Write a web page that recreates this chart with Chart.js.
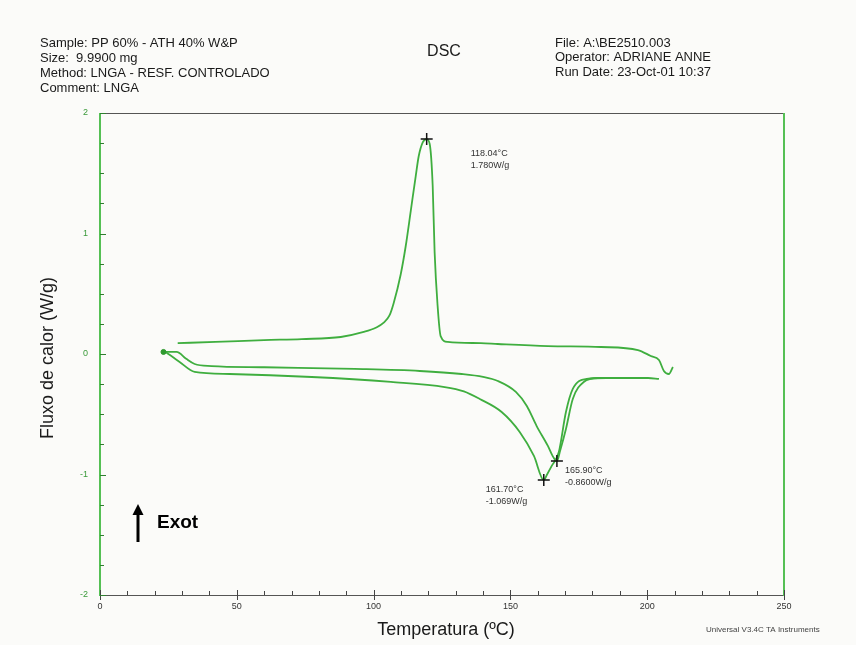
<!DOCTYPE html>
<html>
<head>
<meta charset="utf-8">
<title>DSC</title>
<script src="https://cdn.jsdelivr.net/npm/chart.js@4.4.0/dist/chart.umd.min.js"></script>
<style>
  html, body { margin: 0; padding: 0; background: #fbfbf9; }
  canvas { display: block; }
</style>
</head>
<body>
<canvas id="dscChart" width="856" height="645"></canvas>
<script>
// cooling run (exotherm up)
var coolTemp = [28.4, 42.2, 60, 73.7, 88.0, 96.4, 101, 103.7, 105.8, 107.3, 109.9, 111.7, 113.6, 115.4, 116.5, 118.0, 119.4, 120.5, 121.6, 122.3, 123.4, 124.5, 127.1, 139.2, 145.4, 163.7, 183.1, 196.6, 201.3, 204.3, 206.1, 207.9, 209.4];
var coolFlow = [0.09, 0.10, 0.115, 0.124, 0.141, 0.183, 0.22, 0.26, 0.32, 0.42, 0.66, 0.89, 1.19, 1.477, 1.643, 1.759, 1.784, 1.743, 1.394, 0.846, 0.398, 0.149, 0.10, 0.09, 0.083, 0.066, 0.058, 0.033, -0.017, -0.05, -0.141, -0.166, -0.108];

// first heating run
var heat1Temp = [23.2, 28.0, 31.5, 34.6, 40.8, 60, 93.1, 116.9, 132.2, 140, 145.4, 152.0, 156.0, 159.6, 163.7, 165.8, 167.0, 168.2, 170.3, 172.8, 176.8, 182.0, 200.3, 204.3];
var heat1Flow = [0.017, 0.017, -0.04, -0.083, -0.10, -0.11, -0.124, -0.141, -0.166, -0.19, -0.224, -0.315, -0.432, -0.598, -0.763, -0.86, -0.888, -0.80, -0.622, -0.373, -0.232, -0.199, -0.199, -0.207];

// second heating run
var heat2Temp = [24.0, 29.1, 34.6, 47.4, 77.4, 106.3, 126.0, 133, 138.8, 146.8, 153.4, 158.6, 162.2, 163.4, 165.1, 167.7, 170.3, 172.8, 177.9, 185, 197.7];
var heat2Flow = [0.017, -0.066, -0.149, -0.166, -0.191, -0.232, -0.274, -0.31, -0.373, -0.481, -0.647, -0.846, -1.046, -1.0, -0.929, -0.813, -0.481, -0.290, -0.207, -0.199, -0.199];

// peak markers and their labels
var markTemp = [119.4, 167.0, 162.2];
var markFlow = [1.784, -0.888, -1.046];
var markTempText = ["118.04°C", "165.90°C", "161.70°C"];
var markFlowText = ["1.780W/g", "-0.8600W/g", "-1.069W/g"];

var startTemp = [23.2];
var startFlow = [0.017];

var headerLeft = ["Sample: PP 60% - ATH 40% W&P", "Size:  9.9900 mg", "Method: LNGA - RESF. CONTROLADO", "Comment: LNGA"];
var headerRight = ["File: A:\\BE2510.003", "Operator: ADRIANE ANNE", "Run Date: 23-Oct-01 10:37"];

function toPoints(xs, ys) {
  return xs.map(function (x, i) { return { x: x, y: ys[i] }; });
}

var FONT = "'Liberation Sans', Arial, sans-serif";
var GREEN = "#3fae3f";
// label offsets from each marker, in pixels
var labelOffsets = [[44, 14], [8, 10], [-58, 9]];

var decorations = {
  id: "decorations",
  beforeDraw: function (chart) {
    var c = chart.ctx;
    c.save();
    c.fillStyle = "#fbfbf9";
    c.fillRect(0, 0, chart.width, chart.height);
    c.restore();
  },
  afterDraw: function (chart) {
    var c = chart.ctx, a = chart.chartArea;
    var xs = chart.scales.x, ys = chart.scales.y;
    c.save();

    // frame
    c.strokeStyle = "#555";
    c.lineWidth = 1;
    c.beginPath();
    c.moveTo(a.left, Math.round(a.top) + 0.5); c.lineTo(a.right, Math.round(a.top) + 0.5);
    c.moveTo(a.left, Math.round(a.bottom) + 0.5); c.lineTo(a.right, Math.round(a.bottom) + 0.5);
    c.stroke();
    c.strokeStyle = "#55c055";
    c.lineWidth = 2;
    c.beginPath();
    c.moveTo(a.left, a.top); c.lineTo(a.left, a.bottom + 1);
    c.moveTo(a.right, a.top); c.lineTo(a.right, a.bottom + 1);
    c.stroke();

    // tick marks
    c.strokeStyle = "#444";
    c.lineWidth = 1;
    c.beginPath();
    for (var t = 0; t <= 250; t += 10) {
      var px = Math.round(xs.getPixelForValue(t)) + 0.5;
      var major = t % 50 === 0;
      c.moveTo(px, a.bottom - (major ? 5 : 4));
      c.lineTo(px, a.bottom + (major ? 5 : 0));
    }
    c.stroke();
    c.strokeStyle = "#2f7f2f";
    c.beginPath();
    for (var k = -8; k <= 8; k++) {
      var py = Math.round(ys.getPixelForValue(k / 4)) + 0.5;
      c.moveTo(a.left, py);
      c.lineTo(a.left + (k % 4 === 0 ? 6 : 4), py);
    }
    c.stroke();

    // header
    c.fillStyle = "#1a1a1a";
    c.textBaseline = "middle";
    c.textAlign = "left";
    c.font = "13px " + FONT;
    headerLeft.forEach(function (s, i) { c.fillText(s, 40, 43 + i * 15); });
    headerRight.forEach(function (s, i) { c.fillText(s, 555, 43 + i * 14.5); });
    c.font = "16px " + FONT;
    c.textAlign = "center";
    c.fillText("DSC", 444, 52);

    // axis titles
    c.font = "18px " + FONT;
    c.fillText("Temperatura (ºC)", 446, 630);
    c.save();
    c.translate(48, 358);
    c.rotate(-Math.PI / 2);
    c.fillText("Fluxo de calor (W/g)", 0, 0);
    c.restore();

    c.font = "8px " + FONT;
    c.textAlign = "left";
    c.fillStyle = "#444";
    c.fillText("Universal V3.4C TA Instruments", 706, 630);

    // marker labels
    c.font = "9px " + FONT;
    c.fillStyle = "#333";
    for (var m = 0; m < markTemp.length; m++) {
      var mx = xs.getPixelForValue(markTemp[m]) + labelOffsets[m][0];
      var my = ys.getPixelForValue(markFlow[m]) + labelOffsets[m][1];
      c.fillText(markTempText[m], mx, my);
      c.fillText(markFlowText[m], mx, my + 12);
    }

    // exotherm arrow
    c.strokeStyle = "#000";
    c.fillStyle = "#000";
    c.lineWidth = 3;
    c.beginPath();
    c.moveTo(138, 542); c.lineTo(138, 512);
    c.stroke();
    c.beginPath();
    c.moveTo(138, 504); c.lineTo(132.5, 515); c.lineTo(143.5, 515); c.closePath();
    c.fill();
    c.font = "bold 19px " + FONT;
    c.fillText("Exot", 157, 523);

    c.restore();
  }
};

var lineStyle = {
  showLine: true,
  borderColor: GREEN,
  borderWidth: 1.8,
  pointRadius: 0,
  fill: false,
  cubicInterpolationMode: "monotone"
};

var ctx = document.getElementById("dscChart").getContext("2d");
var dscChart = new Chart(ctx, {
  type: "scatter",
  data: {
    datasets: [
      {
        label: "peaks",
        data: toPoints(markTemp, markFlow),
        pointStyle: "cross",
        pointRadius: 6,
        borderColor: "#111",
        borderWidth: 1.5,
        showLine: false
      },
      {
        label: "start",
        data: toPoints(startTemp, startFlow),
        pointRadius: 2.5,
        backgroundColor: "#2f9a2f",
        borderColor: "#2f9a2f",
        showLine: false
      },
      Object.assign({ label: "cooling", data: toPoints(coolTemp, coolFlow) }, lineStyle),
      Object.assign({ label: "heating 1", data: toPoints(heat1Temp, heat1Flow) }, lineStyle),
      Object.assign({ label: "heating 2", data: toPoints(heat2Temp, heat2Flow) }, lineStyle)
    ]
  },
  options: {
    responsive: false,
    animation: false,
    layout: { padding: { top: 113, right: 72, left: 0, bottom: 0 } },
    plugins: { legend: { display: false }, tooltip: { enabled: false } },
    scales: {
      x: {
        type: "linear",
        min: 0,
        max: 250,
        ticks: { stepSize: 50, color: "#333", font: { size: 9, family: FONT }, padding: 6, maxRotation: 0 },
        grid: { display: false, drawTicks: false },
        border: { display: false },
        afterFit: function (axis) { axis.height = 50; axis.paddingLeft = 0; axis.paddingRight = 0; }
      },
      y: {
        min: -2,
        max: 2,
        ticks: { stepSize: 1, color: "#3a9a3a", font: { size: 9, family: FONT }, padding: 12 },
        grid: { display: false, drawTicks: false },
        border: { display: false },
        afterFit: function (axis) { axis.width = 100; axis.paddingTop = 0; axis.paddingBottom = 0; }
      }
    }
  },
  plugins: [decorations]
});
</script>
</body>
</html>
